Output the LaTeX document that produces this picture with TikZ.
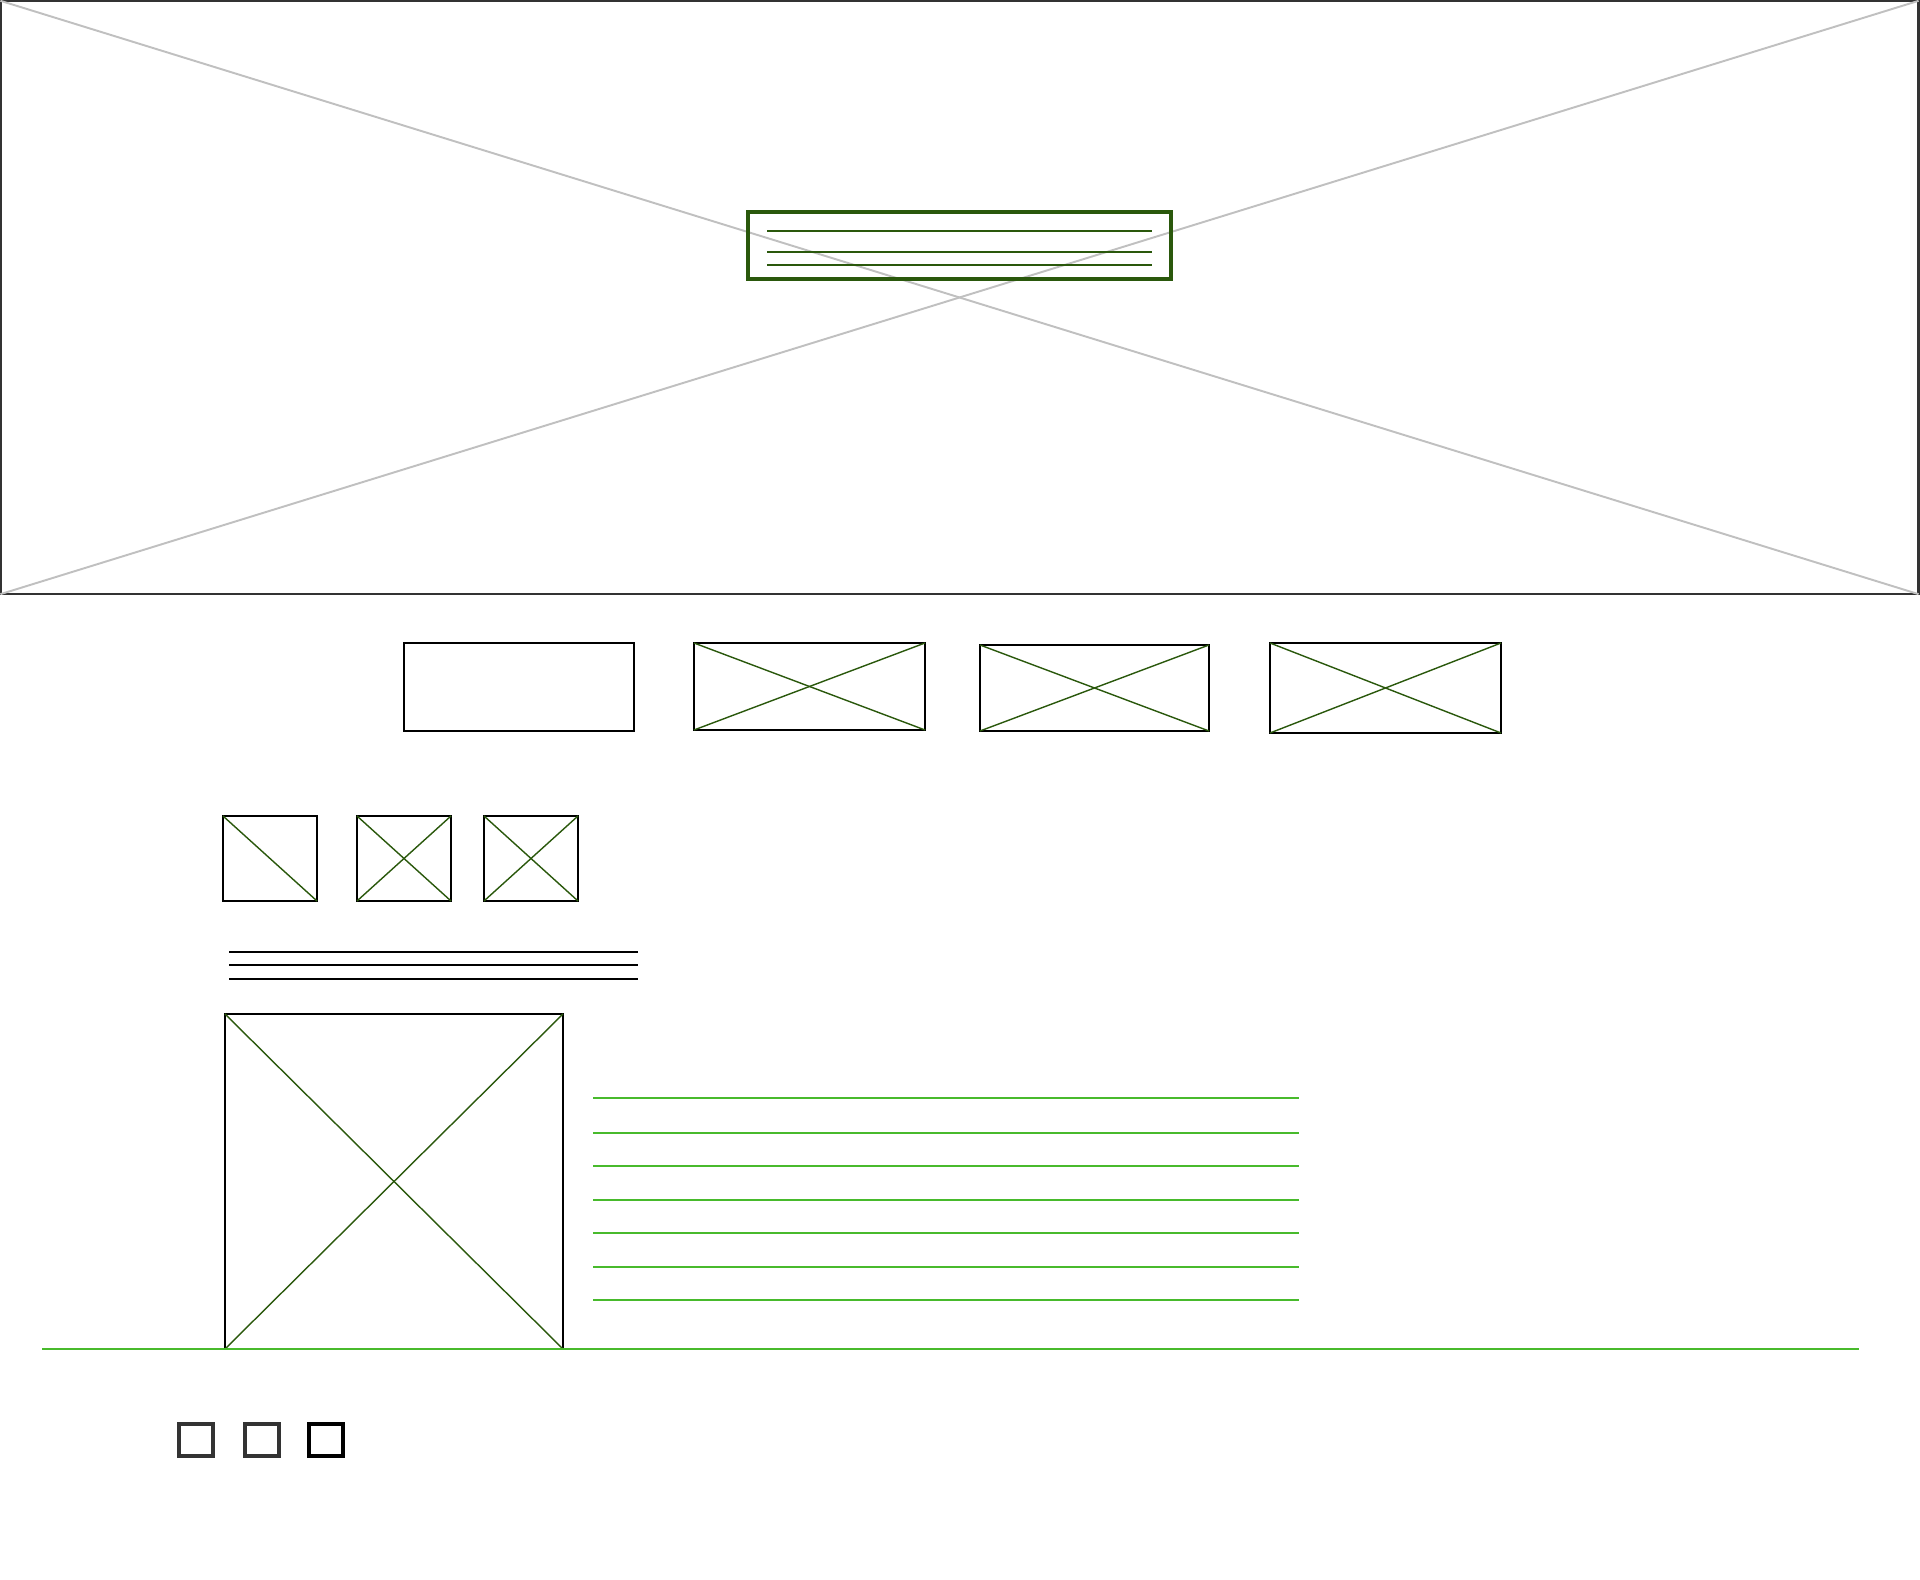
\documentclass[tikz,border=0pt]{standalone}
\definecolor{leaf}{RGB}{42,88,12}
\definecolor{grass}{RGB}{72,186,44}
\definecolor{frame}{RGB}{51,51,51}
\definecolor{cross}{RGB}{192,192,192}
\tikzset{
    box/.style={draw=black, line width=0.35pt, inner sep=0pt, outer sep=0pt},
    xline/.style={leaf, line width=0.4pt},
    tick/.style={draw=frame, line width=1pt, inner sep=0pt, outer sep=0pt,
                 minimum width=0.34cm, minimum height=0.32cm}
}
\begin{document}
\begin{tikzpicture}[x=0.01cm, y=-0.01cm]
    \useasboundingbox (0,0) rectangle (1920,1580);

    % Hero banner
    \node[box, draw=frame, line width=0.7pt, minimum width=19.17cm, minimum height=5.93cm] (hero) at (959.5,297.5) {};
    \draw[cross, line width=0.55pt] (hero.north west) -- (hero.south east);
    \draw[cross, line width=0.55pt] (hero.south west) -- (hero.north east);

    % Caption block
    \node[box, draw=leaf, line width=1pt, minimum width=4.23cm, minimum height=0.67cm] (caption) at (959.5,245.5) {};
    \foreach \y in {231,252,265} {
        \draw[xline, line width=0.35pt] (767,\y) -- (1152,\y);
    }

    % Navigation tiles
    \node[box, minimum width=2.30cm, minimum height=0.88cm] (nav1) at (519,687) {};
    \node[box, minimum width=2.31cm, minimum height=0.87cm] (nav2) at (809.5,686.5) {};
    \node[box, minimum width=2.29cm, minimum height=0.86cm] (nav3) at (1094.5,688) {};
    \node[box, minimum width=2.31cm, minimum height=0.90cm] (nav4) at (1385.5,688) {};
    \foreach \n in {nav2,nav3,nav4} {
        \draw[xline] (\n.north west) -- (\n.south east);
        \draw[xline] (\n.south west) -- (\n.north east);
    }

    % Thumbnails
    \node[box, minimum width=0.94cm, minimum height=0.85cm] (thumb1) at (270,858.5) {};
    \node[box, minimum width=0.94cm, minimum height=0.85cm] (thumb2) at (404,858.5) {};
    \node[box, minimum width=0.94cm, minimum height=0.85cm] (thumb3) at (531,858.5) {};
    \draw[xline] (thumb1.north west) -- (thumb1.south east);
    \foreach \n in {thumb2,thumb3} {
        \draw[xline] (\n.north west) -- (\n.south east);
        \draw[xline] (\n.south west) -- (\n.north east);
    }

    % Heading lines
    \foreach \y in {952,965,979} {
        \draw[black, line width=0.35pt] (229,\y) -- (638,\y);
    }

    % Main picture
    \node[box, line width=0.75pt, minimum width=3.38cm, minimum height=3.35cm] (photo) at (394,1181.5) {};
    \draw[xline] (photo.north west) -- (photo.south east);
    \draw[xline] (photo.south west) -- (photo.north east);

    % Body text
    \foreach \y in {1098,1133,1166,1200,1233,1267,1300} {
        \draw[grass, line width=0.4pt] (593,\y) -- (1299,\y);
    }

    % Divider
    \draw[grass, line width=0.4pt] (42,1349) -- (1859,1349);

    % Checkboxes
    \node[tick] (check1) at (196,1440) {};
    \node[tick] (check2) at (262,1440) {};
    \node[tick, draw=black] (check3) at (326,1440) {};
\end{tikzpicture}
\end{document}
